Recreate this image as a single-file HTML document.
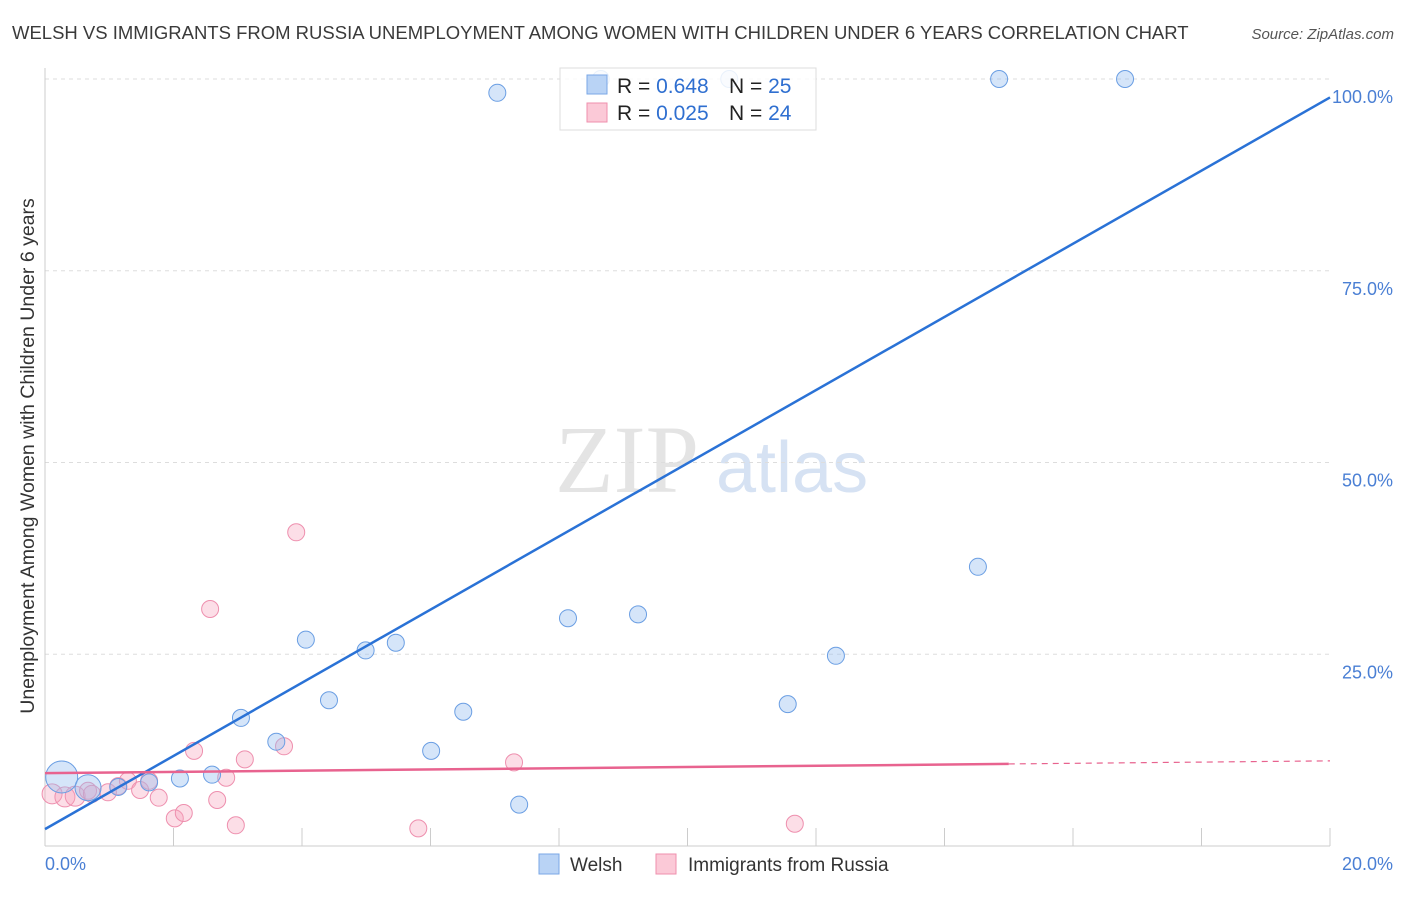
<!DOCTYPE html>
<html><head><meta charset="utf-8"><style>
body{margin:0;background:#fff;font-family:"Liberation Sans",sans-serif}
</style></head><body>
<svg id="c" width="1406" height="892" xmlns="http://www.w3.org/2000/svg" font-family="Liberation Sans, sans-serif">
<text x="12" y="39" font-size="18.5" fill="#3a3a3a">WELSH VS IMMIGRANTS FROM RUSSIA UNEMPLOYMENT AMONG WOMEN WITH CHILDREN UNDER 6 YEARS CORRELATION CHART</text>
<text x="1394" y="39" font-size="15" fill="#555" font-style="italic" text-anchor="end">Source: ZipAtlas.com</text>
<text x="555" y="492" font-size="96" fill="#e4e4e4" font-family="Liberation Serif, serif">ZIP</text>
<text x="716" y="492" font-size="72" fill="#d6e2f3">atlas</text>
<text transform="translate(34,456) rotate(-90)" font-size="19.5" fill="#333" text-anchor="middle">Unemployment Among Women with Children Under 6 years</text>
<g id="axes"></g>
<g id="marks"></g>
<g>
<rect x="560" y="68" width="256" height="62" fill="#fff" fill-opacity="0.85" stroke="#ddd"/>
<rect x="587" y="75" width="20" height="19" fill="#b9d3f5" stroke="#7aa7e6"/>
<rect x="587" y="103" width="20" height="19" fill="#fbc9d7" stroke="#ef8fad"/>
<text x="617" y="93" font-size="21" fill="#222">R = <tspan fill="#2f6fd0">0.648</tspan></text>
<text x="729" y="93" font-size="21" fill="#222">N = <tspan fill="#2f6fd0">25</tspan></text>
<text x="617" y="120" font-size="21" fill="#222">R = <tspan fill="#2f6fd0">0.025</tspan></text>
<text x="729" y="120" font-size="21" fill="#222">N = <tspan fill="#2f6fd0">24</tspan></text>
</g>
<g>
<rect x="539" y="854" width="20" height="20" fill="#b9d3f5" stroke="#7aa7e6"/>
<text x="570" y="871" font-size="19" fill="#333">Welsh</text>
<rect x="656" y="854" width="20" height="20" fill="#fbc9d7" stroke="#ef8fad"/>
<text x="688" y="871" font-size="19" fill="#333">Immigrants from Russia</text>
</g>
</svg>
<script>
const welshX=[0.26,0.67,1.14,1.62,2.10,2.60,3.05,3.60,4.06,4.42,4.99,5.46,6.01,6.51,7.04,7.38,8.14,8.65,9.23,10.65,11.56,12.31,14.52,14.85,16.81];
const welshY=[9.0,7.6,7.7,8.3,8.8,9.3,16.7,13.6,26.9,19.0,25.5,26.5,12.4,17.5,98.2,5.4,29.7,100,30.2,100,18.5,24.8,36.4,100,100];
const russiaX=[0.11,0.31,0.47,0.67,0.73,0.98,1.14,1.29,1.48,1.62,1.77,2.02,2.16,2.32,2.57,2.68,2.82,2.97,3.11,3.72,3.91,5.81,7.30,11.67];
const russiaY=[6.8,6.4,6.5,7.2,6.8,7.0,7.8,8.5,7.3,8.5,6.3,3.6,4.3,12.4,30.9,6.0,8.9,2.7,11.3,13.0,40.9,2.3,10.9,2.9];
const welshTrend=[2.2,97.6];
const russiaTrend=[9.5,11.1];
const yTicks=[25,50,75,100];
const yTickLabels=["25.0%","50.0%","75.0%","100.0%"];
const xTickLabels=["0.0%","20.0%"];
const NS="http://www.w3.org/2000/svg";
const X=v=>45+v*64.25, Y=v=>846-v*7.67;
function mk(p,t,a){const e=document.createElementNS(NS,t);for(const k in a)e.setAttribute(k,a[k]);p.appendChild(e);return e;}
const ax=document.getElementById('axes'), mg=document.getElementById('marks');
yTicks.forEach((t,i)=>{
 const l=mk(ax,'line',{x1:45,x2:1330,y1:Y(t),y2:Y(t),stroke:'#ddd','stroke-dasharray':'4,4'});
 
 
 const tx=mk(ax,'text',{x:1393,y:Y(t)+24,'font-size':18,fill:'#4a7fd4','text-anchor':'end'});
 tx.textContent=yTickLabels[i];
 
 
});
const yl=mk(ax,'line',{x1:45,x2:45,y1:68,y2:846,stroke:'#ccc'});


const xl=mk(ax,'line',{x1:45,x2:1330,y1:846,y2:846,stroke:'#ccc'});


for(let v=2;v<=20;v+=2){
 const t=mk(ax,'line',{x1:X(v),x2:X(v),y1:828,y2:846,stroke:'#ccc'});
 
 
}
[[0,'start',45],[20,'end',1393]].forEach((d,i)=>{
 const t=mk(ax,'text',{x:d[2],y:870,'font-size':18,fill:'#4a7fd4','text-anchor':d[1]});
 t.textContent=xTickLabels[i];
 
 
});
russiaX.forEach((x,i)=>{
 const c=mk(mg,'circle',{cx:X(x),cy:Y(russiaY[i]),r:i<3?10:8.5,fill:'rgba(245,160,185,0.35)',stroke:'#ee8fae','stroke-width':1});
 
 
});
welshX.forEach((x,i)=>{
 const c=mk(mg,'circle',{cx:X(x),cy:Y(welshY[i]),r:i==0?16:(i==1?13:8.5),fill:'rgba(150,190,240,0.4)',stroke:'#6a9ee3','stroke-width':1});
 
 
});
const wl=mk(mg,'line',{x1:X(0),y1:Y(welshTrend[0]),x2:X(20),y2:Y(welshTrend[1]),stroke:'#2a72d6','stroke-width':2.5});


const rY=v=>russiaTrend[0]+(russiaTrend[1]-russiaTrend[0])*v/20;
const rl=mk(mg,'line',{x1:X(0),y1:Y(rY(0)),x2:X(15),y2:Y(rY(15)),stroke:'#e8638f','stroke-width':2.5});


const rd=mk(mg,'line',{x1:X(15),y1:Y(rY(15)),x2:X(20),y2:Y(rY(20)),stroke:'#e8638f','stroke-width':1.2,'stroke-dasharray':'6,5'});


</script>
</body></html>
